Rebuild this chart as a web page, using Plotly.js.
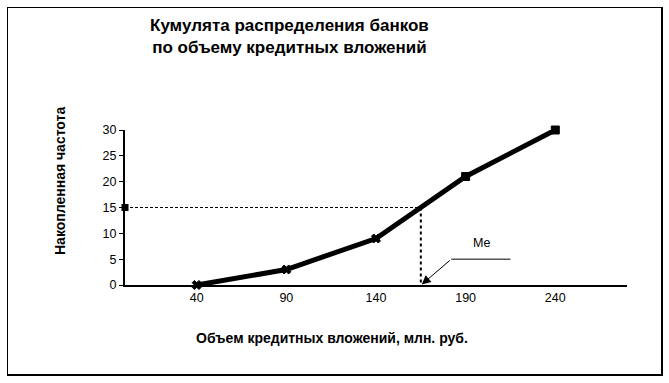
<!DOCTYPE html>
<html>
<head>
<meta charset="utf-8">
<script src="https://cdn.plot.ly/plotly-3.0.1.min.js"></script>
<style>
html,body{margin:0;padding:0;background:#fff;}
#chart{width:669px;height:383px;}
</style>
</head>
<body>
<div id="chart"></div>
<script>
const volumes = [40, 90, 140, 190, 240];
const cumFreq = [0, 3, 9, 21, 30];
const markerSymbols = ['x', 'x', 'x', 'square', 'square'];
const xTicks = [40, 90, 140, 190, 240];
const yTicks = [0, 5, 10, 15, 20, 25, 30];
const medianX = 165;
const medianY = 15;
const titleText = 'Кумулята распределения банков<br>по объему кредитных вложений';
const xTitle = 'Объем кредитных вложений, млн. руб.';
const yTitle = 'Накопленная частота';
const medianLabel = 'Me';

const font = 'Liberation Sans, Arial, sans-serif';

const traces = [
  {
    x: [0, medianX], y: [medianY, medianY],
    mode: 'lines', cliponaxis: false,
    line: {color: '#000', width: 1, dash: '3px,2px'},
    hoverinfo: 'skip', showlegend: false
  },
  {
    x: [0], y: [medianY],
    mode: 'markers', cliponaxis: false,
    marker: {symbol: 'square', size: 7, color: '#000'},
    hoverinfo: 'skip', showlegend: false
  },
  {
    x: [medianX, medianX], y: [medianY, 0],
    mode: 'lines', cliponaxis: false,
    line: {color: '#000', width: 2, dash: 'dot'},
    hoverinfo: 'skip', showlegend: false
  },
  {
    x: volumes, y: cumFreq,
    mode: 'lines+markers', cliponaxis: false,
    line: {color: '#000', width: 5},
    marker: {symbol: markerSymbols, size: 8, color: '#000', line: {color: '#000', width: 1}},
    showlegend: false
  }
];

const layout = {
  width: 669, height: 383,
  margin: {l: 125, r: 42, t: 130, b: 98},
  paper_bgcolor: '#fff', plot_bgcolor: '#fff',
  font: {family: font, color: '#000', size: 12},
  xaxis: {
    range: [0, 280], tickvals: xTicks, ticktext: xTicks.map(String),
    showgrid: false, zeroline: false, showline: true, linecolor: '#000', linewidth: 2,
    ticks: '', tickfont: {family: font, size: 12.5, color: '#000'}
  },
  yaxis: {
    range: [0, 30], tickvals: yTicks,
    showgrid: false, zeroline: false, showline: true, linecolor: '#000', linewidth: 2,
    ticks: 'outside', ticklen: 4, tickwidth: 1, tickcolor: '#000',
    tickfont: {family: font, size: 12.5, color: '#000'}
  },
  shapes: [
    {type: 'line', xref: 'x', yref: 'y', x0: 182, x1: 215, y0: 5, y1: 5, line: {color: '#000', width: 1}}
  ],
  annotations: [
    {text: '<b>' + titleText + '</b>', xref: 'paper', yref: 'paper', x: (289 - 125) / 502, y: 1 + (130 - 36) / 155,
     showarrow: false, font: {family: font, size: 17, color: '#000'}, align: 'center', xanchor: 'center', yanchor: 'middle'},
    {text: '<b>' + xTitle + '</b>', xref: 'paper', yref: 'paper', x: (332 - 125) / 502, y: -(338 - 285) / 155,
     showarrow: false, font: {family: font, size: 14, color: '#000'}, xanchor: 'center', yanchor: 'middle'},
    {text: '<b>' + yTitle + '</b>', xref: 'paper', yref: 'paper', x: -(125 - 60) / 502, y: (285 - 181) / 155,
     showarrow: false, textangle: -90, font: {family: font, size: 14, color: '#000'}, xanchor: 'center', yanchor: 'middle'},
    {text: medianLabel, xref: 'x', yref: 'y', x: 199, y: 8.2, showarrow: false,
     font: {family: font, size: 12.5, color: '#000'}},
    {text: ' ', xref: 'x', yref: 'y', x: medianX + 0.5, y: 0.1, axref: 'x', ayref: 'y', ax: 182, ay: 5,
     showarrow: true, arrowhead: 2, arrowsize: 1.8, arrowwidth: 1, arrowcolor: '#000', font: {size: 1}}
  ]
};

Plotly.newPlot('chart', traces, layout, {staticPlot: true});
</script>
<div style="position:absolute;left:7px;top:7px;width:653px;height:366px;border-left:1px solid #000;border-top:1px solid #000;border-right:2px solid #000;border-bottom:2px solid #000;pointer-events:none;"></div>
</body>
</html>
